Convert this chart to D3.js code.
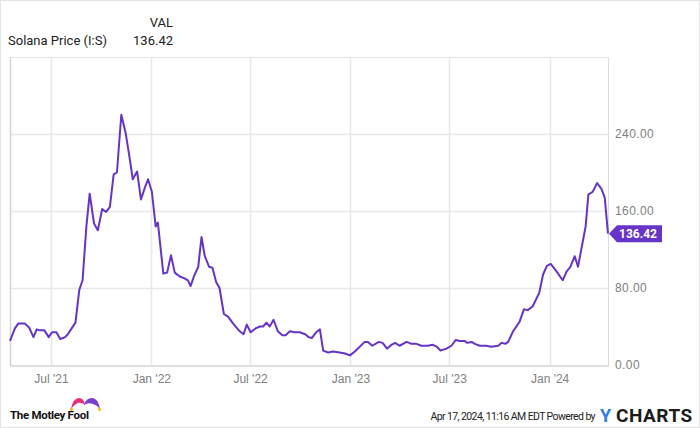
<!doctype html>
<html>
<head>
<meta charset="utf-8"/>
<script src="https://d3js.org/d3.v7.min.js"></script>
<style>
  body { margin: 0; background: #fff; }
  svg { font-family: Roboto, "Noto Sans", sans-serif; }
</style>
</head>
<body>
<svg id="chart" width="700" height="428"></svg>
<script>
// Solana weekly-ish closes
var dates = ["2021-04-17","2021-04-26","2021-05-02","2021-05-14","2021-05-22","2021-05-30","2021-06-05","2021-06-11","2021-06-19","2021-06-27",
  "2021-07-03","2021-07-11","2021-07-18","2021-07-27","2021-08-01","2021-08-08","2021-08-15","2021-08-22","2021-08-28","2021-09-04",
  "2021-09-10","2021-09-18","2021-09-25","2021-10-03","2021-10-10","2021-10-17","2021-10-24","2021-10-30","2021-11-07","2021-11-15",
  "2021-11-22","2021-11-28","2021-12-06","2021-12-13","2021-12-20","2021-12-26","2022-01-02","2022-01-09","2022-01-13","2022-01-23",
  "2022-01-30","2022-02-06","2022-02-13","2022-02-22","2022-03-03","2022-03-09","2022-03-14","2022-03-20","2022-03-28","2022-04-03",
  "2022-04-09","2022-04-17","2022-04-23","2022-04-30","2022-05-06","2022-05-14","2022-05-22","2022-05-31","2022-06-12","2022-06-19",
  "2022-06-25","2022-07-02","2022-07-11","2022-07-19","2022-07-25","2022-07-31","2022-08-06","2022-08-13","2022-08-21","2022-08-29",
  "2022-09-04","2022-09-12","2022-09-21","2022-09-30","2022-10-10","2022-10-16","2022-10-22","2022-10-30","2022-11-06","2022-11-12",
  "2022-11-21","2022-11-30","2022-12-12","2022-12-22","2022-12-31","2023-01-09","2023-01-18","2023-01-27","2023-02-02","2023-02-10",
  "2023-02-22","2023-03-01","2023-03-09","2023-03-17","2023-03-24","2023-04-01","2023-04-14","2023-04-23","2023-05-02","2023-05-11",
  "2023-05-23","2023-06-01","2023-06-08","2023-06-15","2023-06-26","2023-07-05","2023-07-13","2023-07-20","2023-07-29","2023-08-03",
  "2023-08-11","2023-08-17","2023-08-26","2023-09-07","2023-09-16","2023-09-29","2023-10-05","2023-10-12","2023-10-17","2023-10-26",
  "2023-11-07","2023-11-15","2023-11-22","2023-12-01","2023-12-13","2023-12-20","2023-12-27","2024-01-03","2024-01-14","2024-01-25",
  "2024-02-01","2024-02-08","2024-02-16","2024-02-22","2024-03-01","2024-03-07","2024-03-12","2024-03-20","2024-03-28","2024-04-05",
  "2024-04-11","2024-04-17"];
var prices = [25,38,43,43,39,29,37,36,36,29,
  34,34,27,29,32,38,44,78,88,144,
  178,147,140,162,159,164,198,200,260,241,
  216,193,201,172,184,193,180,144,148,95,
  96,114,96,92,90,88,82,92,102,133,
  113,102,101,86,80,53,50,43,35,32,
  42,34,38,40,40,44,40,47,35,31,
  31,35,34,34,32,29,28,34,37,15,
  13,14,13,12,10,14,19,24,24,20,
  24,23,17,21,23,20,24,22,22,20,
  20,21,19,15,17,20,26,25,25,23,
  24,22,20,20,19,20,23,22,24,35,
  45,58,57,61,75,94,103,105,97,88,
  97,102,113,102,126,144,177,180,189,183,
  174,136.42];
var yTicks = [0, 80, 160, 240];
var xTicks = ["2021-07-01","2022-01-01","2022-07-01","2023-01-01","2023-07-01","2024-01-01"];
var seriesName = "Solana Price (I:S)";
var lastValue = 136.42;

var parse = d3.timeParse("%Y-%m-%d");
var data = dates.map(function(d, i) { return { date: parse(d), value: prices[i] }; });

var svg = d3.select("#chart");
var plotL = 10, plotR = 608, plotT = 57, plotB = 365;
var purple = "#6634c8";

// outer frame
svg.append("rect").attr("x", 0.5).attr("y", 0.5).attr("width", 699).attr("height", 427)
  .attr("fill", "none").attr("stroke", "#e4e4e4");

var x = d3.scaleTime()
  .domain([parse("2021-04-17"), parse("2024-04-17")])
  .range([plotL, plotR]);
var y = d3.scaleLinear().domain([0, 320]).range([plotB, plotT]);

// horizontal grid
svg.append("g")
  .selectAll("line").data(yTicks.slice(1)).enter().append("line")
  .attr("x1", plotL).attr("x2", plotR)
  .attr("y1", function(d) { return Math.round(y(d)) + 0.5; })
  .attr("y2", function(d) { return Math.round(y(d)) + 0.5; })
  .attr("stroke", "#e8e8e8").attr("stroke-width", 1.5);

// vertical grid
svg.append("g")
  .selectAll("line").data(xTicks).enter().append("line")
  .attr("x1", function(d) { return Math.round(x(parse(d))) + 0.5; })
  .attr("x2", function(d) { return Math.round(x(parse(d))) + 0.5; })
  .attr("y1", plotT).attr("y2", plotB)
  .attr("stroke", "#e8e8e8").attr("stroke-width", 1.5);

// plot frame
svg.append("line").attr("x1", plotL).attr("x2", plotR).attr("y1", plotT + 0.5).attr("y2", plotT + 0.5)
  .attr("stroke", "#e4e4e4");
svg.append("line").attr("x1", plotR + 0.5).attr("x2", plotR + 0.5).attr("y1", plotT).attr("y2", plotB + 1)
  .attr("stroke", "#dcdcdc");
svg.append("line").attr("x1", plotL + 0.5).attr("x2", plotL + 0.5).attr("y1", plotT).attr("y2", plotB + 1)
  .attr("stroke", "#d4d4d4").attr("stroke-width", 1.5);
svg.append("line").attr("x1", plotL).attr("x2", plotR + 1).attr("y1", plotB + 1).attr("y2", plotB + 1)
  .attr("stroke", "#d4d4d4").attr("stroke-width", 1.5);

// y axis labels (right)
var yAxis = d3.axisRight(y).tickValues(yTicks).tickSize(0).tickPadding(7)
  .tickFormat(d3.format(".2f"));
var gy = svg.append("g").attr("transform", "translate(" + plotR + ",0)").call(yAxis);
gy.select(".domain").remove();
gy.selectAll("text").attr("fill", "#808080").style("font-size", "12px")
  .style("letter-spacing", "0.4px");

// x axis labels
var xAxis = d3.axisBottom(x).tickValues(xTicks.map(parse)).tickSize(0).tickPadding(9)
  .tickFormat(d3.timeFormat("%b '%y"));
var gx = svg.append("g").attr("transform", "translate(0," + plotB + ")").call(xAxis);
gx.select(".domain").remove();
gx.selectAll("text").attr("fill", "#808080").style("font-size", "12px");

// price line
var line = d3.line()
  .x(function(d) { return x(d.date); })
  .y(function(d) { return y(d.value); });
svg.append("path").datum(data)
  .attr("d", line)
  .attr("fill", "none")
  .attr("stroke", purple)
  .attr("stroke-width", 2)
  .attr("stroke-linejoin", "round");

// last value tag
var ty = y(lastValue);
svg.append("path")
  .attr("d", "M" + (plotR + 1) + "," + ty + " L" + (plotR + 9) + "," + (ty - 8.5) +
    " L662," + (ty - 8.5) + " L662," + (ty + 8.5) + " L" + (plotR + 9) + "," + (ty + 8.5) + " Z")
  .attr("fill", purple);
svg.append("text").attr("x", 638).attr("y", ty + 4.5)
  .attr("text-anchor", "middle").attr("fill", "#fff")
  .style("font-size", "12px").style("font-weight", "bold")
  .text(d3.format(".2f")(lastValue));

// header
svg.append("text").attr("x", 173).attr("y", 27).attr("text-anchor", "end")
  .attr("fill", "#222").style("font-size", "13px").text("VAL");
svg.append("text").attr("x", 8).attr("y", 45)
  .attr("fill", "#222").style("font-size", "13px").text(seriesName);
svg.append("text").attr("x", 173).attr("y", 45).attr("text-anchor", "end")
  .attr("fill", "#222").style("font-size", "13px").text(d3.format(".2f")(lastValue));

// footer: Motley Fool logo
var hat = svg.append("g").attr("transform", "translate(70,397)");
hat.append("path").attr("d", "M1,12 Q3,1 9,1 Q14,1 15,8 Q10,4 6,7 Q3,9 1,12 Z").attr("fill", "#e8307a");
hat.append("path").attr("d", "M14,8 Q16,1 22,1 Q28,1 30,12 Q27,8 23,7 Q18,5 14,8 Z").attr("fill", "#7b3fd0");
hat.append("circle").attr("cx", 1.5).attr("cy", 12.5).attr("r", 1.4).attr("fill", "#f5b400");
hat.append("circle").attr("cx", 29.5).attr("cy", 12.5).attr("r", 1.4).attr("fill", "#f5b400");
svg.append("text").attr("x", 10).attr("y", 419).attr("fill", "#111")
  .style("font-size", "11.5px").style("font-weight", "bold").style("letter-spacing", "-0.3px")
  .text("The Motley Fool");

// footer: timestamp and YCharts
svg.append("text").attr("x", 595).attr("y", 420).attr("text-anchor", "end")
  .attr("fill", "#222").style("font-size", "10.5px").style("letter-spacing", "-0.6px")
  .text("Apr 17, 2024, 11:16 AM EDT Powered by");
var yc = svg.append("g").attr("transform", "translate(600,422)");
yc.append("text").attr("x", 0).attr("fill", "#2b7de9")
  .style("font-size", "18px").style("font-weight", "bold").text("Y");
yc.append("text").attr("x", 16).attr("fill", "#1c1c1c")
  .style("font-size", "19px").style("font-weight", "bold").style("letter-spacing", "0.5px")
  .text("CHARTS");
</script>
</body>
</html>
